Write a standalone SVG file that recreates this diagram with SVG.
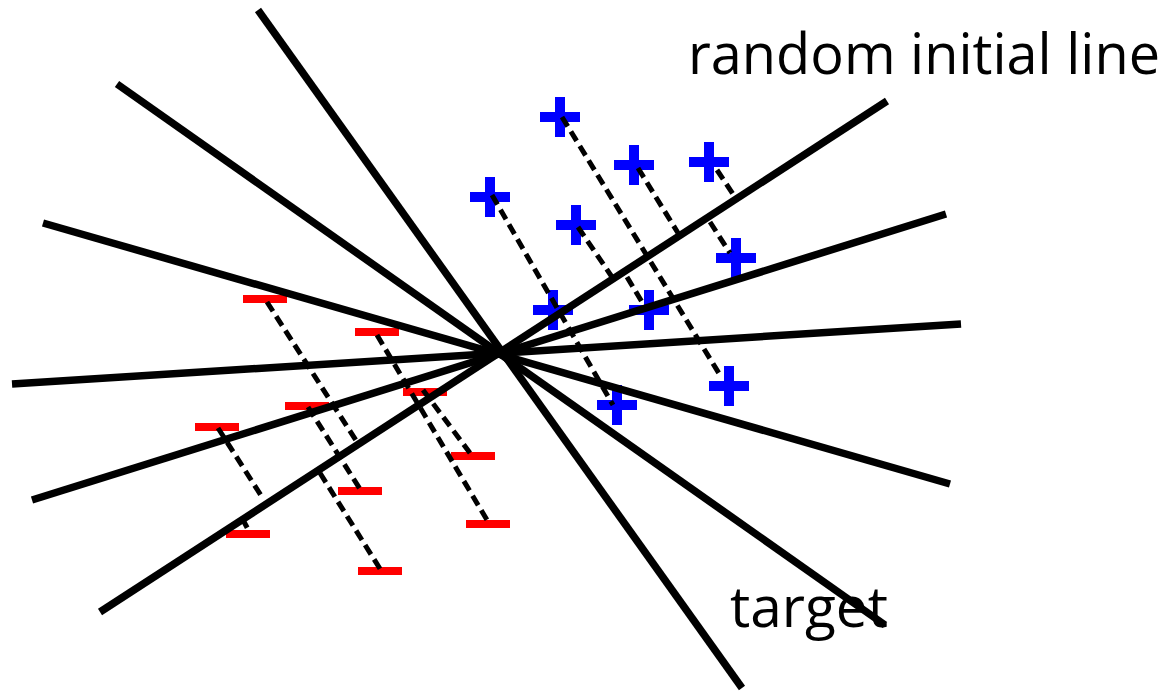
<svg xmlns="http://www.w3.org/2000/svg" width="1168" height="691" viewBox="0 0 1168 691">
<defs>
<style>
.lbl{font-family:"Open Sans","Noto Sans","Liberation Sans",sans-serif;fill:#000}
.plus{stroke:#0000ff;stroke-width:10;fill:none}
.minus{fill:#ff0000}
.dash{stroke:#000;stroke-width:5;stroke-dasharray:11,6;fill:none}
.sol{stroke:#000;stroke-width:7.5;stroke-linecap:butt;fill:none}
</style>
<path id="pl" d="M-20,0H20M0,-20V20"/>
</defs>
<rect width="1168" height="691" fill="#fff"/>
<g id="labels">
<text class="lbl" x="688" y="74" font-size="56" textLength="472" lengthAdjust="spacingAndGlyphs">random initial line</text>
<text class="lbl" x="730" y="627" font-size="56" textLength="158" lengthAdjust="spacingAndGlyphs">target</text>
</g>
<g id="positives">
<use href="#pl" class="plus" x="560" y="117"/>
<use href="#pl" class="plus" x="634" y="165"/>
<use href="#pl" class="plus" x="709" y="162"/>
<use href="#pl" class="plus" x="490" y="197"/>
<use href="#pl" class="plus" x="576" y="225"/>
<use href="#pl" class="plus" x="736" y="258"/>
<use href="#pl" class="plus" x="553" y="310"/>
<use href="#pl" class="plus" x="649" y="310"/>
<use href="#pl" class="plus" x="617" y="405"/>
<use href="#pl" class="plus" x="729" y="386"/>
</g>
<g id="negatives">
<rect class="minus" x="243" y="295" width="44" height="8"/>
<rect class="minus" x="355" y="328" width="44" height="8"/>
<rect class="minus" x="403" y="388" width="44" height="8"/>
<rect class="minus" x="285" y="402" width="44" height="8"/>
<rect class="minus" x="195" y="423" width="44" height="8"/>
<rect class="minus" x="451" y="452" width="44" height="8"/>
<rect class="minus" x="338" y="487" width="44" height="8"/>
<rect class="minus" x="466" y="520" width="44" height="8"/>
<rect class="minus" x="226" y="530" width="44" height="8"/>
<rect class="minus" x="358" y="567" width="44" height="8"/>
</g>
<g id="connectors">
<line class="dash" x1="562" y1="117" x2="720" y2="375"/>
<line class="dash" x1="638" y1="168" x2="678" y2="233"/>
<line class="dash" x1="717" y1="170" x2="735" y2="197"/>
<line class="dash" x1="710" y1="222" x2="730" y2="253"/>
<line class="dash" x1="492" y1="195" x2="613" y2="405"/>
<line class="dash" x1="578" y1="227" x2="612" y2="277"/>
<line class="dash" x1="627" y1="277" x2="645" y2="307"/>
<line class="dash" x1="267" y1="302" x2="357" y2="442"/>
<line class="dash" x1="308" y1="407" x2="360" y2="489"/>
<line class="dash" x1="377" y1="335" x2="487" y2="520"/>
<line class="dash" x1="423" y1="390" x2="470" y2="453"/>
<line class="dash" x1="218" y1="428" x2="262" y2="497"/>
<line class="dash" x1="242" y1="518" x2="250" y2="533"/>
<line class="dash" x1="320" y1="473" x2="382" y2="572"/>
</g>
<g id="lines">
<line class="sol" x1="258" y1="10" x2="742" y2="688"/>
<line class="sol" x1="117" y1="84" x2="885" y2="625"/>
<line class="sol" x1="43" y1="223" x2="950" y2="484"/>
<line class="sol" x1="12" y1="384" x2="961" y2="324"/>
<line class="sol" x1="32" y1="500" x2="946" y2="214"/>
<line class="sol" x1="100" y1="612" x2="887" y2="101"/>
</g>
</svg>
